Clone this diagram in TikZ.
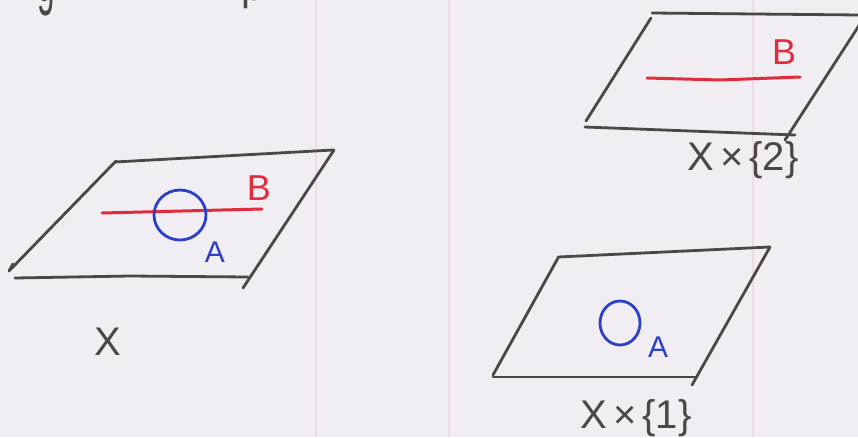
\documentclass[tikz,border=0pt]{standalone}
\usepackage{fontspec}
\setmainfont{Liberation Sans}
\definecolor{paper}{HTML}{F1EEF3}
\definecolor{pencil}{HTML}{4A4747}
\definecolor{penred}{HTML}{E02C3C}
\definecolor{penblue}{HTML}{2B3FC8}
\definecolor{ruleline}{HTML}{EEDAE8}
\tikzset{
  sketch/.style={draw=pencil, line width=2.8pt, line cap=round, line join=round},
  redline/.style={draw=penred, line width=3pt, line cap=round},
  blueline/.style={draw=penblue, line width=2.8pt},
  redlabel/.style={text=penred, font=\fontsize{36}{36}\selectfont, inner sep=0pt},
  bluelabel/.style={text=penblue, font=\fontsize{30}{30}\selectfont, inner sep=0pt},
  spacelabel/.style={text=pencil, font=\fontsize{40}{40}\selectfont, inner sep=0pt},
  margin/.style={draw=ruleline, line width=1.2pt}
}
\begin{document}
\begin{tikzpicture}[x=1pt,y=-1pt]
\clip (0,0) rectangle (858,437);
\fill[paper] (0,0) rectangle (858,437);
% faint ruling of the paper
\draw[margin] (316,0) -- (316,437);
\draw[margin] (449,0) -- (449,437);
\draw[margin] (753,0) -- (753,437);
% cut-off handwriting at the top
\node[text=pencil, font=\fontsize{70}{70}\selectfont, inner sep=0pt, anchor=base, xscale=0.45] (topg) at (46,1) {g};
\node[text=pencil, font=\fontsize{40}{40}\selectfont, inner sep=0pt, anchor=base west] (topp) at (241,0) {p};
% ---------- left plane X ----------
\draw[sketch] (115,162) -- (333,150);
\draw[sketch] (116,161) -- (9,271) -- (13,264);
\draw[sketch] (15,278) -- (130,276) -- (248,277);
\draw[sketch] (334,150) -- (243,288);
\draw[redline] (102,213) -- (262,209);
\node[redlabel] (lB) at (259,188) {B};
\draw[blueline] (180,215) circle [x radius=26, y radius=25];
\node[bluelabel] (lA) at (215,252) {A};
\node[spacelabel] (lX) at (108,342) {X};
% ---------- top right plane X x {2} ----------
\draw[sketch] (652,13) -- (860,15);
\draw[sketch] (651,18) -- (586,121);
\draw[sketch] (585,127) -- (795,135);
\draw[sketch] (860,24) -- (785,140);
\draw[redline] (647,78) -- (720,80) -- (800,77);
\node[redlabel] (rB) at (784,52) {B};
\node[spacelabel] (l2) at (743,160) {X\hspace{6pt}×\hspace{6pt}\{2\}};
% ---------- bottom right plane X x {1} ----------
\draw[sketch] (558,257) -- (770,247);
\draw[sketch] (558,258) -- (493,375);
\draw[sketch] (493,377) -- (697,377);
\draw[sketch] (770,247) -- (692,385);
\draw[blueline] (620,323) circle [x radius=20, y radius=22];
\node[bluelabel] (rA) at (658,347) {A};
\node[spacelabel] (l1) at (636,418) {X\hspace{6pt}×\hspace{6pt}\{1\}};
\end{tikzpicture}
\end{document}
